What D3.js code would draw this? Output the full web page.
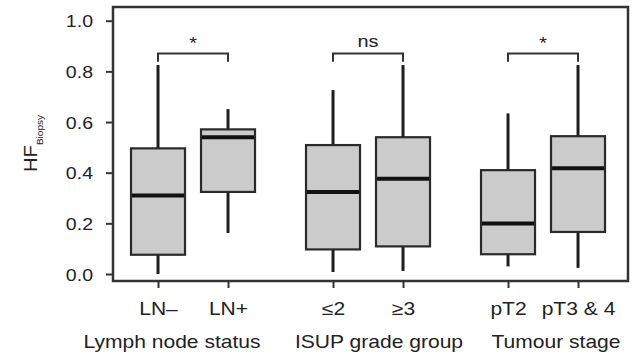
<!DOCTYPE html>
<html>
<head>
<meta charset="utf-8">
<script src="https://cdn.jsdelivr.net/npm/d3@7"></script>
<style>
  html, body { margin: 0; padding: 0; background: #fff; }
  svg { display: block; }
  text { font-family: "Liberation Sans", Arial, Helvetica, sans-serif; fill: #222; }
</style>
</head>
<body>
<svg id="chart" width="636" height="357"></svg>
<script>
// ---- data ----
const categories = ["LN\u2013", "LN+", "\u22642", "\u22653", "pT2", "pT3 & 4"];
const groups = ["Lymph node status", "ISUP grade group", "Tumour stage"];
const groupOf = [0, 0, 1, 1, 2, 2];
const whiskerLow  = [0.000, 0.162, 0.008, 0.012, 0.030, 0.024];
const q1          = [0.076, 0.324, 0.097, 0.109, 0.078, 0.166];
const median      = [0.310, 0.540, 0.324, 0.376, 0.199, 0.417];
const q3          = [0.496, 0.571, 0.509, 0.540, 0.410, 0.544];
const whiskerHigh = [0.825, 0.651, 0.726, 0.825, 0.634, 0.825];
const significance = ["*", "ns", "*"];
const yTicks = [0.0, 0.2, 0.4, 0.6, 0.8, 1.0];
const yTickLabels = ["0.0", "0.2", "0.4", "0.6", "0.8", "1.0"];

// ---- layout ----
const svg = d3.select("#chart");
const frame = { left: 113, top: 7, right: 628, bottom: 281 };
const slot = (i) => groupOf[i] * 2.5 + (i % 2);   // category slot position
const x = d3.scaleLinear().domain([-0.643, 6.714]).range([frame.left, frame.right]);
const y = d3.scaleLinear().domain([0, 1]).range([274, 20.7]);
const boxW = 54;
const ink = "#1e1e1e";
const SX = 1.17; // horizontal stretch of the original lettering

function label(parent, px, py, str, size, anchor, sx) {
  const g = parent.append("g").attr("transform", `translate(${px},${py}) scale(${sx},1)`);
  return g.append("text").attr("text-anchor", anchor).attr("font-size", size).text(str);
}

// frame
svg.append("rect")
  .attr("x", frame.left).attr("y", frame.top)
  .attr("width", frame.right - frame.left).attr("height", frame.bottom - frame.top)
  .attr("fill", "none").attr("stroke", "#333").attr("stroke-width", 2.5);

// y axis
const yAxis = d3.axisLeft(y).tickValues(yTicks)
  .tickFormat((d, i) => yTickLabels[i]).tickSize(6);
const yg = svg.append("g").attr("transform", `translate(${frame.left - 1},0)`).call(yAxis);
yg.select(".domain").remove();
yg.selectAll(".tick line").attr("stroke", "#333").attr("stroke-width", 2);
yg.selectAll(".tick text")
  .attr("x", 0).attr("dy", "0.36em")
  .attr("transform", "translate(-19,0) scale(1.15,1)")
  .attr("font-size", 17).attr("fill", "#222")
  .attr("font-family", "'Liberation Sans', Arial, sans-serif");

// x axis
const xAxis = d3.axisBottom(x).tickValues(categories.map((c, i) => slot(i)))
  .tickFormat((d, i) => categories[i]).tickSize(6);
const xg = svg.append("g").attr("transform", `translate(0,${frame.bottom + 1})`).call(xAxis);
xg.select(".domain").remove();
xg.selectAll(".tick line").attr("stroke", "#333").attr("stroke-width", 2);
xg.selectAll(".tick text")
  .attr("y", 0).attr("dy", 0)
  .attr("transform", `translate(0,33) scale(${SX},1)`)
  .attr("font-size", 18).attr("fill", "#222")
  .attr("font-family", "'Liberation Sans', Arial, sans-serif");

// group labels
const groupCenters = [172, 379, 556];
groups.forEach((gname, i) => label(svg, groupCenters[i], 348, gname, 18, "middle", SX));

// y label
const ylg = svg.append("g").attr("transform", "translate(37,172) rotate(-90) scale(1.12,1)");
const yl = ylg.append("text").attr("font-size", 18);
yl.append("tspan").text("HF");
yl.append("tspan").attr("font-size", 9).attr("dy", 6).text("Biopsy");

// boxes
const boxes = svg.selectAll("g.box").data(categories).join("g").attr("class", "box");
boxes.append("line")
  .attr("x1", (d, i) => x(slot(i))).attr("x2", (d, i) => x(slot(i)))
  .attr("y1", (d, i) => y(whiskerHigh[i])).attr("y2", (d, i) => y(q3[i]))
  .attr("stroke", ink).attr("stroke-width", 3);
boxes.append("line")
  .attr("x1", (d, i) => x(slot(i))).attr("x2", (d, i) => x(slot(i)))
  .attr("y1", (d, i) => y(q1[i])).attr("y2", (d, i) => y(whiskerLow[i]))
  .attr("stroke", ink).attr("stroke-width", 3);
boxes.append("rect")
  .attr("x", (d, i) => x(slot(i)) - boxW / 2).attr("width", boxW)
  .attr("y", (d, i) => y(q3[i])).attr("height", (d, i) => y(q1[i]) - y(q3[i]))
  .attr("fill", "#cbcbcb").attr("stroke", "#2a2a2a").attr("stroke-width", 2.2);
boxes.append("line")
  .attr("x1", (d, i) => x(slot(i)) - boxW / 2 + 1).attr("x2", (d, i) => x(slot(i)) + boxW / 2 - 1)
  .attr("y1", (d, i) => y(median[i])).attr("y2", (d, i) => y(median[i]))
  .attr("stroke", "#111").attr("stroke-width", 4);

// significance brackets
const bracketTop = 0.871, bracketLeg = 0.838;
const br = svg.selectAll("g.bracket").data(significance).join("g").attr("class", "bracket");
br.append("path")
  .attr("d", (d, g) => {
    const a = x(g * 2.5), b = x(g * 2.5 + 1);
    return `M${a},${y(bracketLeg)}V${y(bracketTop)}H${b}V${y(bracketLeg)}`;
  })
  .attr("fill", "none").attr("stroke", "#333").attr("stroke-width", 2);
significance.forEach((s, g) => {
  label(svg, x(g * 2.5 + 0.5), s === "*" ? y(0.89) : y(0.895), s, 17, "middle", SX);
});
</script>
</body>
</html>
